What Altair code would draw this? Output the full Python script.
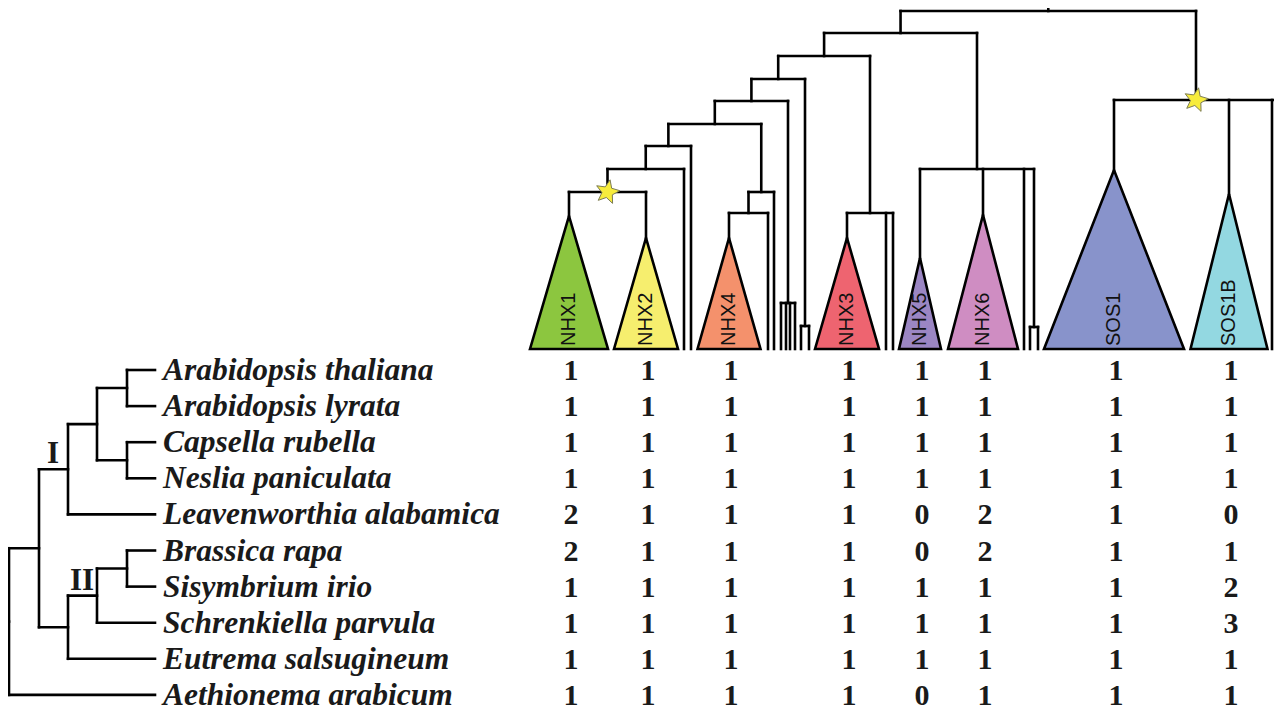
import math
import altair as alt
import pandas as pd

# ---------------- data ----------------
species = [
    "Arabidopsis thaliana", "Arabidopsis lyrata", "Capsella rubella",
    "Neslia paniculata", "Leavenworthia alabamica", "Brassica rapa",
    "Sisymbrium irio", "Schrenkiella parvula", "Eutrema salsugineum",
    "Aethionema arabicum",
]
genes = ["NHX1", "NHX2", "NHX4", "NHX3", "NHX5", "NHX6", "SOS1", "SOS1B"]
gene_colors = ["#8cc63f", "#f6ee6e", "#f4916c", "#ee6470", "#9b86c3",
               "#cf8dc2", "#8893cb", "#93d8e1"]
counts = {
    "NHX1":  [1, 1, 1, 1, 2, 2, 1, 1, 1, 1],
    "NHX2":  [1, 1, 1, 1, 1, 1, 1, 1, 1, 1],
    "NHX4":  [1, 1, 1, 1, 1, 1, 1, 1, 1, 1],
    "NHX3":  [1, 1, 1, 1, 1, 1, 1, 1, 1, 1],
    "NHX5":  [1, 1, 1, 1, 0, 0, 1, 1, 1, 0],
    "NHX6":  [1, 1, 1, 1, 2, 2, 1, 1, 1, 1],
    "SOS1":  [1, 1, 1, 1, 1, 1, 1, 1, 1, 1],
    "SOS1B": [1, 1, 1, 1, 0, 1, 2, 3, 1, 1],
}

# collapsed clades of the gene tree: apex position, apex depth, half width
clade_x = [569, 646, 729, 847, 920, 983, 1114, 1229]
clade_top = [216, 238, 238, 238, 258, 215, 170, 194]
clade_half = [39, 32, 31.5, 32, 21, 35, 70, 38.5]
tree_base = 349

# single-sequence tips of the gene tree
tips = {"t1": 684, "t2": 691, "t3": 768, "t4": 774, "t5": 781, "t6": 786,
        "t7": 790, "t8": 795, "t9": 801, "t10": 809, "t11": 886, "t12": 893,
        "t13": 1024, "t14": 1030, "t15": 1038, "t16": 1272, "t17": 1278}

# internal nodes of the gene tree: (name, depth, children)
gene_nodes = [
    ("g12", 192, ["NHX1", "NHX2"]),
    ("ga", 169, ["g12", "t1"]),
    ("gb", 146, ["ga", "t2"]),
    ("g4a", 213, ["NHX4", "t3"]),
    ("g4", 192, ["g4a", "t4"]),
    ("gc", 124, ["gb", "g4"]),
    ("gq", 303, ["t5", "t6", "t7", "t8"]),
    ("gd", 101, ["gc", "gq"]),
    ("gr", 326, ["t9", "t10"]),
    ("ge", 79, ["gd", "gr"]),
    ("g3", 213, ["NHX3", "t11", "t12"]),
    ("gf", 56, ["ge", "g3"]),
    ("gs", 327, ["t14", "t15"]),
    ("g56", 169, ["NHX5", "NHX6", "t13", "gs"]),
    ("gg", 33, ["gf", "g56"]),
    ("gsos", 100, ["SOS1", "SOS1B", "t16", "t17"]),
    ("groot", 11, ["gg", "gsos"]),
]
duplication_nodes = ["g12", "gsos"]

# species tree: (name, depth, children) children = row index or node name
species_nodes = [
    ("s1", 127, [0, 1]),
    ("s2", 127, [2, 3]),
    ("s3", 97, ["s1", "s2"]),
    ("sI", 68, ["s3", 4]),
    ("s4", 127, [5, 6]),
    ("s5", 97, ["s4", 7]),
    ("sII", 68, ["s5", 8]),
    ("s6", 39, ["sI", "sII"]),
    ("sroot", 9, ["s6", 9]),
]
lineage_labels = [("I", "sI"), ("II", "s5")]

# ---------------- layout helpers ----------------
row_y = [371 + 36.1 * i for i in range(len(species))]
leaf_end = 155

segs = []
# gene tree
pos = {}
for g, x, t in zip(genes, clade_x, clade_top):
    pos[g] = (x, t)
for k, x in tips.items():
    pos[k] = (x, tree_base)
for name, depth, kids in gene_nodes:
    xs = [pos[k][0] for k in kids]
    segs.append((min(xs), depth, max(xs), depth))
    for k in kids:
        segs.append((pos[k][0], depth, pos[k][0], pos[k][1]))
    pos[name] = ((min(xs) + max(xs)) / 2, depth)
rx, ry = pos["groot"]
segs.append((rx, ry, rx, ry - 4))

# species tree
spos = {i: (leaf_end, y - 1) for i, y in enumerate(row_y)}
for name, depth, kids in species_nodes:
    ys = [spos[k][1] for k in kids]
    segs.append((depth, min(ys), depth, max(ys)))
    for k in kids:
        segs.append((depth, spos[k][1], spos[k][0], spos[k][1]))
    spos[name] = (depth, (min(ys) + max(ys)) / 2)
sx, sy = spos["sroot"]
segs.append((sx - 4, sy, sx, sy))

seg_df = pd.DataFrame(segs, columns=["x", "y", "x2", "y2"])

tri_rows = []
for g, x, t, h in zip(genes, clade_x, clade_top, clade_half):
    tri_rows += [
        {"gene": g, "x": x - h, "y": tree_base, "y2": tree_base},
        {"gene": g, "x": x, "y": t, "y2": tree_base},
        {"gene": g, "x": x + h, "y": tree_base, "y2": tree_base},
    ]
tri_df = pd.DataFrame(tri_rows)

lab_df = pd.DataFrame({"gene": genes, "x": clade_x, "y": [tree_base - 3] * len(genes)})

star_df = pd.DataFrame({"x": [pos[n][0] for n in duplication_nodes],
                        "y": [pos[n][1] for n in duplication_nodes]})

sp_df = pd.DataFrame({"name": species, "x": [leaf_end + 8] * len(species), "y": row_y})

num_rows = []
for g, x in zip(genes, clade_x):
    for i, v in enumerate(counts[g]):
        num_rows.append({"gene": g, "x": x + 2, "y": row_y[i], "v": str(v)})
num_df = pd.DataFrame(num_rows)

cl_df = pd.DataFrame({"t": [c[0] for c in lineage_labels],
                      "x": [spos[c[1]][0] - 15 for c in lineage_labels],
                      "y": [spos[c[1]][1] - 15 for c in lineage_labels]})

# star glyph
pts = []
for k in range(10):
    a = math.radians(-90 + 12 + 36 * k)
    r = 1.0 if k % 2 == 0 else 0.45
    pts.append(f"{r * math.cos(a):.3f},{r * math.sin(a):.3f}")
star_path = "M" + "L".join(pts) + "Z"

# ---------------- chart ----------------
xs = alt.Scale(domain=[8, 1274], nice=False, zero=False)
ys = alt.Scale(domain=[8, 713], nice=False, zero=False, reverse=True)
X = alt.X("x:Q", scale=xs, axis=None)
Y = alt.Y("y:Q", scale=ys, axis=None, stack=None)

lines = alt.Chart(seg_df).mark_rule(color="black", strokeWidth=2.6, strokeCap="square").encode(
    x=X, y=Y, x2="x2:Q", y2="y2:Q")

tris = alt.Chart(tri_df).mark_area(stroke="black", strokeWidth=2.6, strokeJoin="miter",
                                   opacity=1, interpolate="linear").encode(
    x=X, y=Y, y2="y2:Q",
    color=alt.Color("gene:N", scale=alt.Scale(domain=genes, range=gene_colors), legend=None),
    detail="gene:N")

tri_labels = alt.Chart(lab_df).mark_text(angle=270, align="left", baseline="middle",
                                         font="Liberation Sans", fontSize=20,
                                         color="#111111").encode(x=X, y=Y, text="gene:N")

stars = alt.Chart(star_df).mark_point(shape=star_path, size=620, filled=True, fill="#f7ec3c",
                                      stroke="#7c7c55", strokeWidth=1, opacity=1).encode(x=X, y=Y)

sp_text = alt.Chart(sp_df).mark_text(align="left", baseline="middle", font="Liberation Serif",
                                     fontStyle="italic", fontWeight="bold", fontSize=31.5,
                                     color="#1a1a1a").encode(x=X, y=Y, text="name:N")

nums = alt.Chart(num_df).mark_text(align="center", baseline="middle", font="Liberation Serif",
                                   fontWeight="bold", fontSize=30,
                                   color="#1a1a1a").encode(x=X, y=Y, text="v:N")

clade_txt = alt.Chart(cl_df).mark_text(align="center", baseline="middle", font="Liberation Serif",
                                       fontWeight="bold", fontSize=31,
                                       color="#1a1a1a").encode(x=X, y=Y, text="t:N")

chart = alt.layer(lines, tris, tri_labels, stars, sp_text, nums, clade_txt).properties(
    width=1266, height=705, autosize=alt.AutoSizeParams(type="none"), padding=0
).configure_view(stroke=None)

chart.save("out.html", embed_options={"renderer": "svg", "actions": False})
